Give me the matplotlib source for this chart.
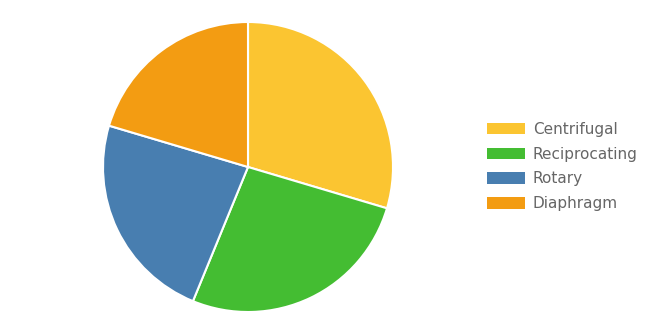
import matplotlib
matplotlib.use("Agg")
import matplotlib.pyplot as plt
from matplotlib.patches import Patch

labels = ["Centrifugal", "Reciprocating", "Rotary", "Diaphragm"]
values = [29.6, 26.6, 23.4, 20.4]
colors = ["#fbc531", "#44bd32", "#487eb0", "#f39c12"]

plt.rcParams['font.family'] = ['DejaVu Sans']

W, H = 668, 334
fig = plt.figure(figsize=(W/100, H/100), dpi=100)
cx, cy, r = 248, 167, 145
ax = fig.add_axes([(cx - r)/W, (H - cy - r)/H, 2*r/W, 2*r/H])
ax.pie(values, colors=colors, startangle=90, counterclock=False, radius=1,
       wedgeprops=dict(edgecolor="white", linewidth=1.5))
ax.set_xlim(-1, 1)
ax.set_ylim(-1, 1)
ax.set_aspect("equal")
ax.axis("off")

handles = [Patch(facecolor=c, edgecolor="none") for c in colors]
leg = fig.legend(handles, labels, loc="center left",
                 bbox_to_anchor=(487/W, 1 - 166.5/H), frameon=False,
                 fontsize=11, handlelength=2.5, handleheight=0.78,
                 handletextpad=0.5, labelspacing=0.64, borderpad=0,
                 borderaxespad=0)
for t in leg.get_texts():
    t.set_color("#666666")

fig.savefig("out.png", dpi=100, facecolor="white")
